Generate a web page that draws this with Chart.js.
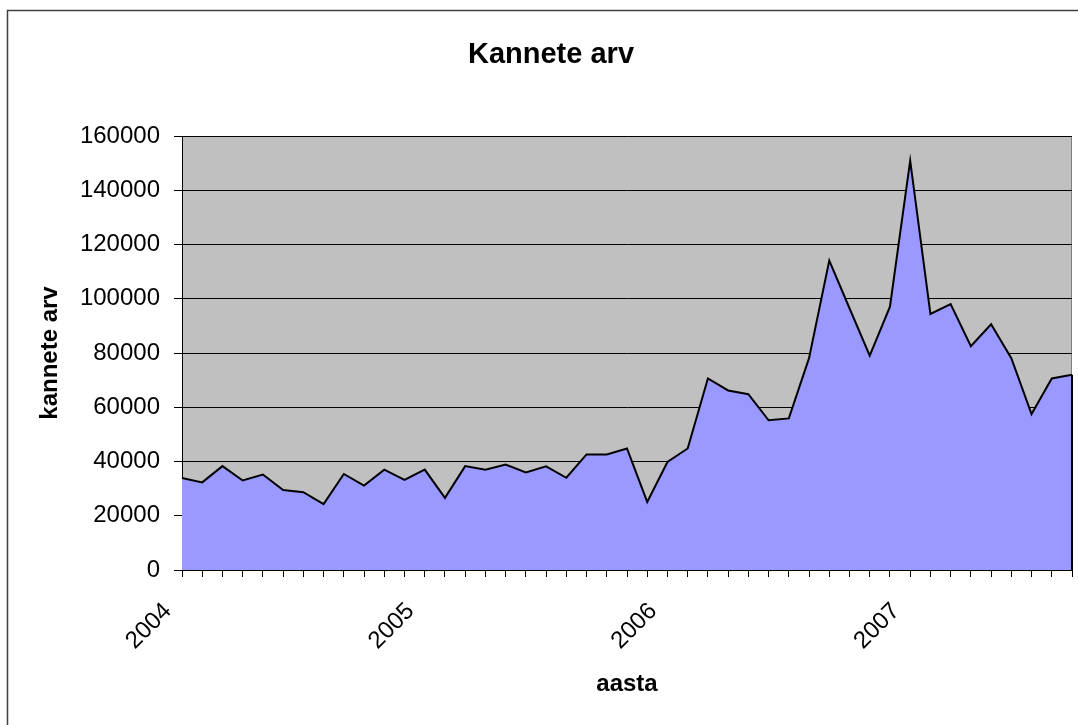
<!DOCTYPE html>
<html>
<head>
<meta charset="utf-8">
<script src="https://cdn.jsdelivr.net/npm/chart.js@4"></script>
<style>
    html, body { margin: 0; padding: 0; background: #fff; overflow: hidden; }
    #wrap { position: absolute; left: 0; top: 0; width: 1102px; height: 725px; }
</style>
</head>
<body>
<div id="wrap"><canvas id="chart"></canvas></div>
<script>
// Monthly values, Jan 2004 .. Sep 2007
const startYear = 2004;
const counts = [
    33900, 32300, 38300, 33000, 35200, 29500, 28700, 24300, 35400, 31100, 37000, 33200,
    37000, 26600, 38300, 37000, 38900, 36000, 38200, 34000, 42600, 42600, 44800, 25100,
    39800, 44800, 70600, 66200, 64800, 55200, 55900, 78100, 114100, 96500, 79000, 97100,
    150900, 94400, 98000, 82500, 90600, 78100, 57500, 70600, 72000
];
const yTicks = [0, 20000, 40000, 60000, 80000, 100000, 120000, 140000, 160000];

const categories = counts.map((_, i) => {
    const y = startYear + Math.floor(i / 12);
    const m = String(i % 12 + 1).padStart(2, '0');
    return `${y}-${m}`;
});

const FONT = "'Liberation Sans', Arial, sans-serif";

// Background, outer frame, plot area fill and chart title
const backdrop = {
    id: 'backdrop',
    beforeDraw(chart) {
        const { ctx, chartArea: a } = chart;
        ctx.save();
        ctx.fillStyle = '#fff';
        ctx.fillRect(0, 0, chart.width, chart.height);

        ctx.strokeStyle = '#404040';
        ctx.lineWidth = 1.5;
        ctx.beginPath();
        ctx.moveTo(7.5, chart.height + 5);
        ctx.lineTo(7.5, 10.5);
        ctx.lineTo(chart.width + 5, 10.5);
        ctx.stroke();

        ctx.fillStyle = '#c0c0c0';
        ctx.fillRect(a.left, a.top, a.right - a.left, a.bottom - a.top);
        ctx.strokeStyle = '#808080';
        ctx.lineWidth = 1;
        ctx.strokeRect(a.left + 0.5, a.top + 0.5, a.right - a.left - 1, a.bottom - a.top);

        ctx.fillStyle = '#000';
        ctx.font = `bold 29px ${FONT}`;
        ctx.textAlign = 'center';
        ctx.textBaseline = 'alphabetic';
        ctx.fillText('Kannete arv', chart.width / 2, 63);
        ctx.restore();
    },
    afterDatasetsDraw(chart) {
        // close the area outline on the right edge
        const meta = chart.getDatasetMeta(0);
        const last = meta.data[meta.data.length - 1];
        const { ctx, chartArea: a } = chart;
        ctx.save();
        ctx.strokeStyle = '#000';
        ctx.lineWidth = 2;
        ctx.beginPath();
        ctx.moveTo(last.x, last.y);
        ctx.lineTo(last.x, a.bottom);
        ctx.stroke();
        ctx.restore();
    }
};

new Chart(document.getElementById('chart'), {
    type: 'line',
    data: {
        labels: categories,
        datasets: [{
            label: 'kannete arv',
            data: counts,
            fill: 'origin',
            backgroundColor: '#9999ff',
            borderColor: '#000',
            borderWidth: 2,
            tension: 0,
            pointRadius: 0,
            pointHoverRadius: 0
        }]
    },
    options: {
        responsive: true,
        maintainAspectRatio: false,
        animation: false,
        events: [],
        layout: { padding: { top: 136, right: 30, left: 0, bottom: 0 } },
        plugins: {
            legend: { display: false },
            title: { display: false },
            tooltip: { enabled: false }
        },
        scales: {
            x: {
                offset: false,
                afterFit(scale) {
                    scale.height = 155;
                    scale.paddingLeft = 0;
                    scale.paddingRight = 0;
                },
                grid: {
                    drawOnChartArea: false,
                    drawTicks: true,
                    tickLength: 7,
                    color: '#000'
                },
                border: { color: '#000', width: 1 },
                ticks: {
                    autoSkip: false,
                    minRotation: 45,
                    maxRotation: 45,
                    padding: 6,
                    color: '#000',
                    font: { family: FONT, size: 24 },
                    callback(val) {
                        const lab = this.getLabelForValue(val);
                        // trailing spaces pull the rotated year a bit left of its tick
                        return lab.endsWith('-01') ? lab.slice(0, 4) + '   ' : '';
                    }
                },
                title: {
                    display: true,
                    text: 'aasta',
                    color: '#000',
                    font: { family: FONT, size: 24, weight: 'bold' },
                    padding: { top: 0, bottom: 26.6 }
                }
            },
            y: {
                min: 0,
                max: 160000,
                afterFit(scale) { scale.width = 182; },
                afterBuildTicks(scale) { scale.ticks = yTicks.map(v => ({ value: v })); },
                grid: {
                    color: '#000',
                    lineWidth: 1,
                    tickLength: 8
                },
                border: { color: '#000', width: 1 },
                ticks: {
                    padding: 14,
                    color: '#000',
                    font: { family: FONT, size: 24 },
                    callback: (v) => String(v)
                },
                title: {
                    display: true,
                    text: 'kannete arv',
                    color: '#000',
                    font: { family: FONT, size: 24, weight: 'bold' },
                    padding: { top: 35.6, bottom: 0 }
                }
            }
        }
    },
    plugins: [backdrop]
});
</script>
</body>
</html>
